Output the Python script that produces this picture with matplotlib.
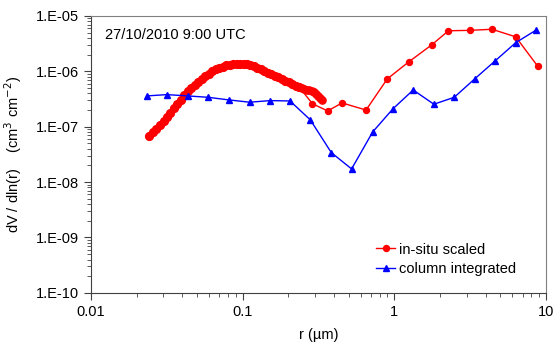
import matplotlib.pyplot as plt
from matplotlib.ticker import LogLocator, FixedLocator, NullFormatter

plt.rcParams['font.family'] = ['Liberation Sans', 'DejaVu Sans']

# in-situ, fine-mode instrument (dense), ordered part that joins the coarse data
R_FINE = [0.0242, 0.0256, 0.0270, 0.0285, 0.0301, 0.0317, 0.0334, 0.0352, 0.0371, 0.0391,
          0.0412, 0.0434, 0.0458, 0.0483, 0.0509, 0.0537, 0.0566, 0.0597, 0.0629, 0.0663,
          0.0699, 0.0737, 0.0777, 0.0819, 0.0864, 0.0911, 0.0960, 0.1012, 0.1067, 0.1125,
          0.1186, 0.1250, 0.1318, 0.1390, 0.1465, 0.1545, 0.1629, 0.1717, 0.1810, 0.1909,
          0.2012, 0.2122, 0.2237, 0.2358]
V_FINE = [6.8e-8, 7.9e-8, 9.2e-8, 1.08e-7, 1.27e-7, 1.5e-7, 1.8e-7, 2.2e-7, 2.6e-7, 3.1e-7,
          3.7e-7, 4.4e-7, 5.0e-7, 5.7e-7, 6.5e-7, 7.3e-7, 8.2e-7, 9.1e-7, 1.0e-6, 1.09e-6,
          1.16e-6, 1.22e-6, 1.28e-6, 1.32e-6, 1.35e-6, 1.37e-6, 1.37e-6, 1.36e-6, 1.33e-6, 1.29e-6,
          1.24e-6, 1.17e-6, 1.1e-6, 1.02e-6, 9.4e-7, 8.8e-7, 8.3e-7, 7.8e-7, 7.2e-7, 6.7e-7,
          6.3e-7, 5.9e-7, 5.5e-7, 5.2e-7]

# overlapping tail of the fine-mode data
R_TAIL = [0.2358, 0.245, 0.255, 0.265, 0.275, 0.285, 0.295, 0.305, 0.315, 0.325, 0.332]
V_TAIL = [5.2e-7, 5.0e-7, 4.9e-7, 4.7e-7, 4.6e-7, 4.4e-7, 4.2e-7, 3.9e-7, 3.6e-7, 3.3e-7, 3.05e-7]

# in-situ coarse-mode instrument
R_COARSE = [0.288, 0.363, 0.452, 0.65, 0.897, 1.25, 1.76, 2.27, 3.15, 4.4, 6.3, 8.8]
V_COARSE = [2.6e-7, 1.93e-7, 2.69e-7, 2.0e-7, 7.3e-7, 1.5e-6, 3.0e-6, 5.4e-6, 5.5e-6, 5.75e-6, 4.2e-6, 1.24e-6]

# column integrated (sun photometer inversion)
R_COL = [0.0233, 0.0316, 0.0434, 0.059, 0.081, 0.111, 0.151, 0.205, 0.279, 0.384, 0.522,
         0.719, 0.98, 1.33, 1.82, 2.48, 3.38, 4.63, 6.31, 8.63]
V_COL = [3.6e-7, 3.8e-7, 3.6e-7, 3.4e-7, 3.05e-7, 2.77e-7, 2.96e-7, 2.92e-7, 1.33e-7, 3.4e-8, 1.73e-8,
         8.05e-8, 2.12e-7, 4.6e-7, 2.55e-7, 3.4e-7, 7.3e-7, 1.56e-6, 3.3e-6, 5.6e-6]

X_TICKS = [0.01, 0.1, 1, 10]
X_LABELS = ['0.01', '0.1', '1', '10']
Y_TICKS = [1e-10, 1e-9, 1e-8, 1e-7, 1e-6, 1e-5]
Y_LABELS = ['1.E-10', '1.E-09', '1.E-08', '1.E-07', '1.E-06', '1.E-05']

fig = plt.figure(figsize=(5.55, 3.47), dpi=100)
ax = fig.add_axes([0.164, 0.156, 0.820, 0.798])

# dense fine-mode points drawn as a thick band, coarse points smaller
ax.plot(R_FINE, V_FINE, color='#FF0000', marker='o', markersize=5.6, linewidth=1, linestyle='none')
ax.plot(R_TAIL, V_TAIL, color='#FF0000', marker='o', markersize=5.2, linewidth=1)
ax.plot(R_FINE + R_COARSE, V_FINE + V_COARSE, color='#FF0000', marker='o', markersize=4.3,
        linewidth=1, label='in-situ scaled')
ax.plot(R_COL, V_COL, color='#0000FF', marker='^', markersize=4.8, linewidth=1,
        label='column integrated')

ax.set_xscale('log')
ax.set_yscale('log')
ax.set_xlim(0.01, 10)
ax.set_ylim(1e-10, 1e-5)

ax.xaxis.set_major_locator(FixedLocator(X_TICKS))
ax.set_xticklabels(X_LABELS)
ax.yaxis.set_major_locator(FixedLocator(Y_TICKS))
ax.set_yticklabels(Y_LABELS)
ax.xaxis.set_minor_locator(LogLocator(base=10, subs=range(2, 10)))
ax.yaxis.set_minor_locator(LogLocator(base=10, subs=range(2, 10)))
ax.xaxis.set_minor_formatter(NullFormatter())
ax.yaxis.set_minor_formatter(NullFormatter())

ax.tick_params(which='major', direction='out', length=5, width=0.8, labelsize=10.5,
               color='#404040', pad=4)
ax.tick_params(which='minor', direction='out', length=3, width=0.6, color='#404040')

for side in ['top', 'right']:
    ax.spines[side].set_color('#808080')
for side in ['left', 'bottom']:
    ax.spines[side].set_color('#404040')

ax.set_xlabel('r (µm)', fontsize=10.5, labelpad=6)
ax.set_ylabel('dV / dln(r)    (cm$^3$ cm$^{-2}$)', fontsize=10.5, labelpad=8)

ax.text(0.03, 0.93, '27/10/2010 9:00 UTC', transform=ax.transAxes, fontsize=10.5,
        va='center', ha='left')

ax.legend(loc='lower right', bbox_to_anchor=(0.948, 0.041), frameon=False, fontsize=10.5,
          handlelength=1.3, handletextpad=0.3, labelspacing=0.35, borderaxespad=0)

fig.savefig('out.png', dpi=100)
